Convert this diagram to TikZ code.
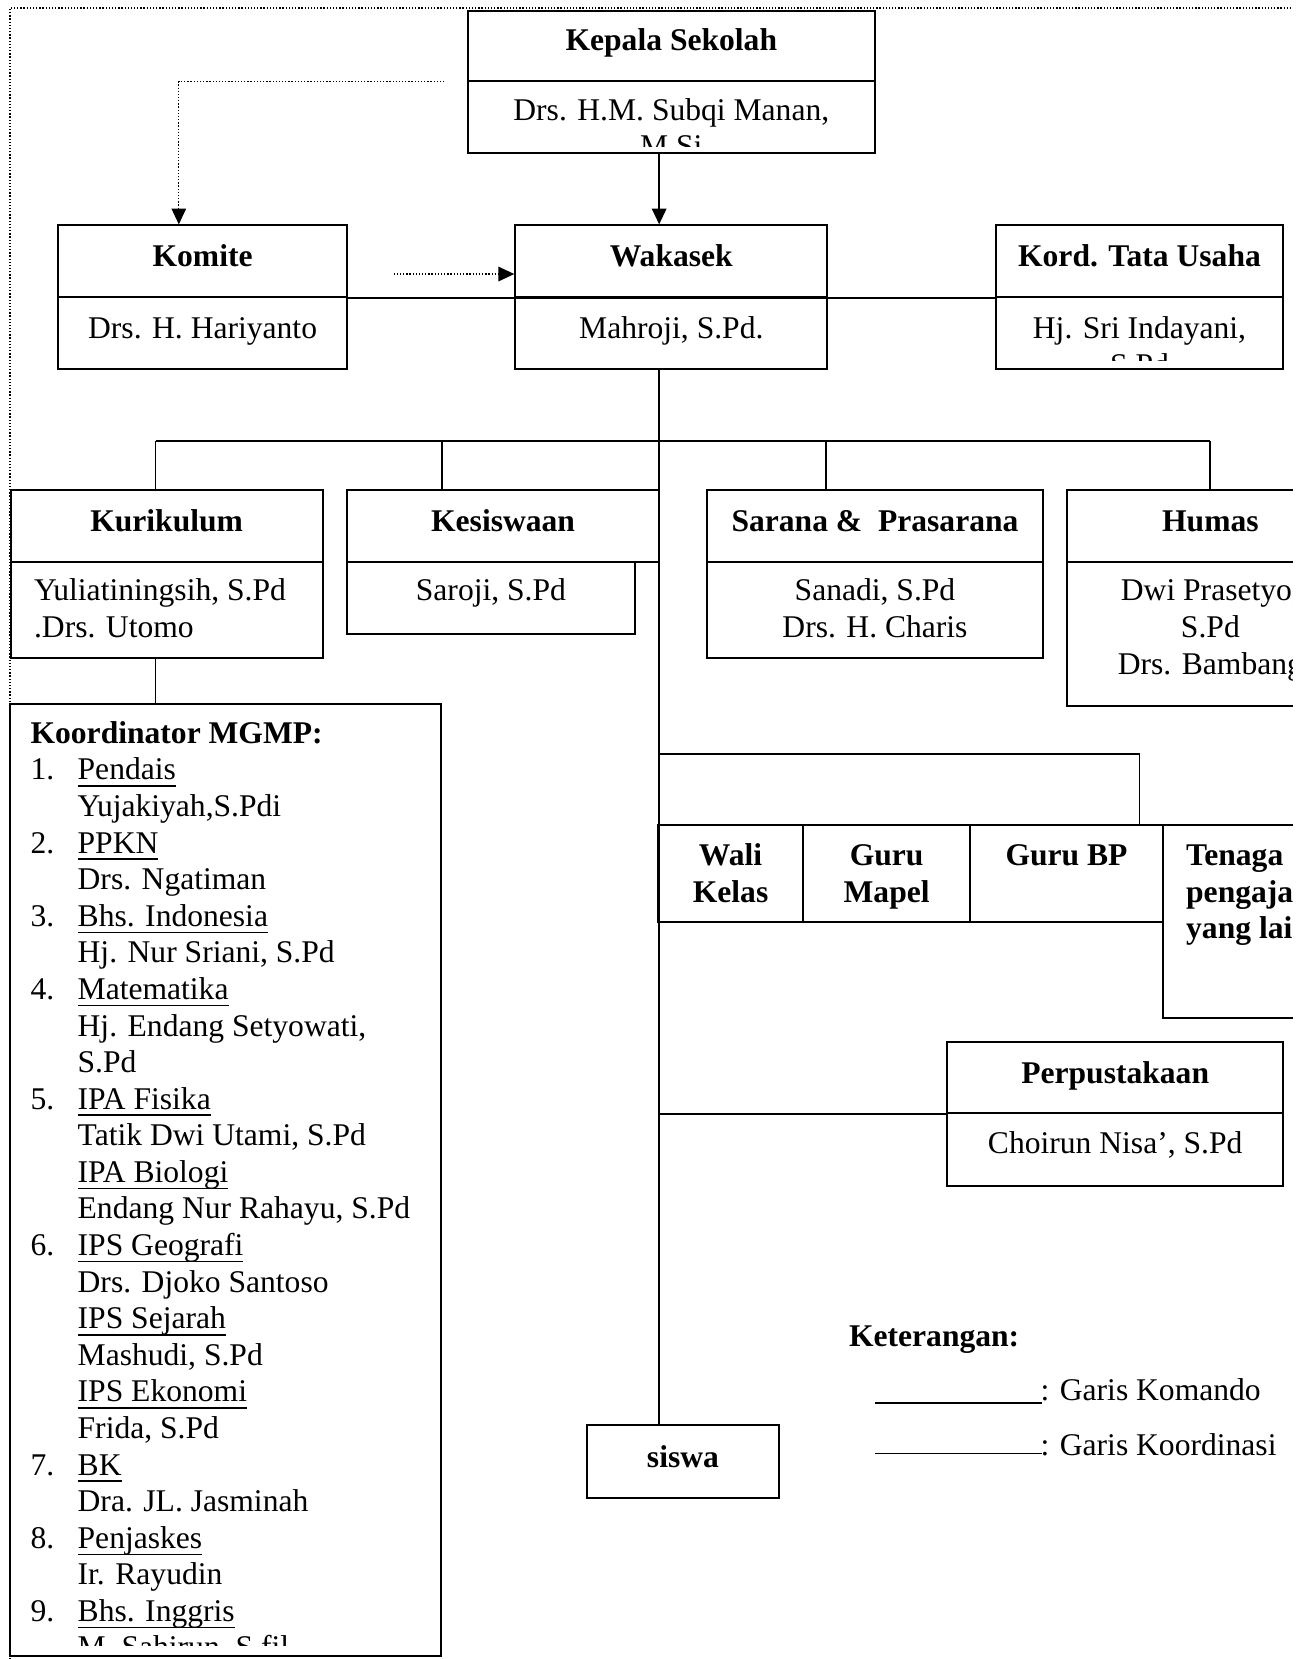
\documentclass[tikz,border=0pt]{standalone}
\usepackage{fontspec}
\setmainfont{Liberation Serif}
\usetikzlibrary{arrows.meta,fit}
\newcommand{\myul}[1]{\setbox0\hbox{#1}\rlap{\rule[-2.6pt]{\wd0}{0.6pt}}\box0}
\newcommand{\mlc}[1]{\begin{tabular}[t]{@{}c@{}}#1\end{tabular}}
\newcommand{\mll}[1]{\begin{tabular}[t]{@{}l@{}}#1\end{tabular}}
\tikzset{
  box/.style={draw, line width=0.75pt, inner sep=0pt},
  conn/.style={line width=0.7pt},
  dotln/.style={line width=0.5pt, dash pattern=on 0.5pt off 0.7pt},
  tip/.style={-{Triangle[length=6pt,width=5.5pt]}},
  txt/.style={anchor=base, inner sep=0pt, font=\fontsize{12}{13.9}\selectfont},
  btxt/.style={anchor=base, inner sep=0pt, font=\fontsize{12}{13.9}\selectfont\bfseries},
}
\begin{document}
\begin{tikzpicture}[x=0.402pt,y=-0.402pt]
\useasboundingbox (0,0) rectangle (1232,1568);
\begin{scope}
\clip (-2,-2) rectangle (1222,1570);

% outer dotted guide
\coordinate (g1) at (9.5,1568);
\coordinate (g2) at (9.5,7.5);
\coordinate (g3) at (1220,7.5);
\draw[dotln] (g1) -- (g2) -- (g3);

% ---------- boxes ----------
\node[box, fit={(442,10) (827,77)}] (kepH) {};
\node[box, fit={(442,77) (827,145)}] (kepB) {};
\node[box, fit={(55,213) (328,281)}] (komH) {};
\node[box, fit={(55,281) (328,349)}] (komB) {};
\node[box, fit={(487,213) (782,281)}] (wakH) {};
\node[box, fit={(487,281) (782,349)}] (wakB) {};
\node[box, fit={(941,213) (1213,281)}] (kordH) {};
\node[box, fit={(941,281) (1213,349)}] (kordB) {};

\node[box, fit={(10,463) (305,531)}] (kurH) {};
\node[box, fit={(10,531) (305,622)}] (kurB) {};
\node[box, fit={(328,463) (623,531)}] (kesH) {};
\node[box, fit={(328,531) (600,599)}] (kesB) {};
\node[box, fit={(668,463) (986,531)}] (sarH) {};
\node[box, fit={(668,531) (986,622)}] (sarB) {};
\node[box, fit={(1008,463) (1280,531)}] (humH) {};
\node[box, fit={(1008,531) (1280,667)}] (humB) {};

\node[box, fit={(9,665) (417,1565)}] (mgmp) {};

\node[box, fit={(622,780) (759,871)}] (wali) {};
\node[box, fit={(759,780) (917,871)}] (mapel) {};
\node[box, fit={(917,780) (1099,871)}] (bp) {};
\node[box, fit={(1099,780) (1280,962)}] (tenaga) {};

\node[box, fit={(895,985) (1213,1052)}] (perH) {};
\node[box, fit={(895,1052) (1213,1121)}] (perB) {};

\node[box, fit={(555,1347) (736,1416)}] (siswa) {};

% ---------- texts ----------
\node[btxt] (kepT) at (634.5,48) {Kepala Sekolah};
\begin{scope}
\clip (442,77) rectangle (827,138);
\node[txt] (kepN) at (634.5,113.5) {\mlc{Drs. H.M. Subqi Manan,\\M.Si}};
\end{scope}
\node[btxt] (komT) at (191.5,252) {Komite};
\node[txt] (komN) at (191.5,320) {Drs. H. Hariyanto};
\node[btxt] (wakT) at (634.5,252) {Wakasek};
\node[txt] (wakN) at (634.5,320) {Mahroji, S.Pd.};
\node[btxt] (kordT) at (1077,252) {Kord. Tata Usaha};
\begin{scope}
\clip (941,281) rectangle (1213,341);
\node[txt] (kordN) at (1077,320) {\mlc{Hj. Sri Indayani,\\S.Pd}};
\end{scope}

\node[btxt] (kurT) at (157.5,502) {Kurikulum};
\node[txt, anchor=base west] (kurN) at (31.7,568) {\mll{Yuliatiningsih, S.Pd\\.Drs. Utomo}};
\node[btxt] (kesT) at (475.5,502) {Kesiswaan};
\node[txt] (kesN) at (464,568) {Saroji, S.Pd};
\node[btxt] (sarT) at (827,502) {Sarana \& \ Prasarana};
\node[txt] (sarN) at (827,568) {\mlc{Sanadi, S.Pd\\Drs. H. Charis}};
\node[btxt] (humT) at (1144,502) {Humas};
\node[txt] (humN) at (1144,568) {\mlc{Dwi Prasetyo,\\S.Pd\\Drs. Bambang}};

\node[btxt] (waliT) at (690.5,818) {\mlc{Wali\\Kelas}};
\node[btxt] (mapelT) at (838,818) {\mlc{Guru\\Mapel}};
\node[btxt] (bpT) at (1008,818) {Guru BP};
\node[btxt, anchor=base west] (tenT) at (1120.6,818) {\mll{Tenaga\\pengajar\\yang lain}};

\node[btxt] (perT) at (1054,1024) {Perpustakaan};
\node[txt] (perN) at (1054,1090) {Choirun Nisa’, S.Pd};

\node[btxt] (siswaT) at (645.5,1387) {siswa};

\begin{scope}
\clip (9,665) rectangle (417,1555);
\node[txt, anchor=base west] (mgmpT) at (28.4,702.6) {\begin{tabular}[t]{@{}p{17.9pt}@{}l@{}}
\multicolumn{2}{@{}l@{}}{\bfseries Koordinator MGMP:}\\
1. & \myul{Pendais}\\
 & Yujakiyah,S.Pdi\\
2. & \myul{PPKN}\\
 & Drs. Ngatiman\\
3. & \myul{Bhs. Indonesia}\\
 & Hj. Nur Sriani, S.Pd\\
4. & \myul{Matematika}\\
 & Hj. Endang Setyowati,\\
 & S.Pd\\
5. & \myul{IPA Fisika}\\
 & Tatik Dwi Utami, S.Pd\\
 & \myul{IPA Biologi}\\
 & Endang Nur Rahayu, S.Pd\\
6. & \myul{IPS Geografi}\\
 & Drs. Djoko Santoso\\
 & \myul{IPS Sejarah}\\
 & Mashudi, S.Pd\\
 & \myul{IPS Ekonomi}\\
 & Frida, S.Pd\\
7. & \myul{BK}\\
 & Dra. JL. Jasminah\\
8. & \myul{Penjaskes}\\
 & Ir. Rayudin\\
9. & \myul{Bhs. Inggris}\\
 & M. Sahirun, S.fil
\end{tabular}};
\end{scope}

% ---------- connectors ----------
\coordinate (spine) at (623,0);
\draw[conn,tip] (kepB.south -| spine) -- (wakH.north -| spine);
\draw[conn] (wakB.south -| spine) -- (siswa.north -| spine);
\draw[conn] (komH.south east) -- (kordH.south west);

\coordinate (kd) at (420,77);
\coordinate (kx) at (169,0);
\draw[dotln,tip] (kd) -| (kx |- komH.north);
\coordinate (da) at (372,259);
\draw[dotln,tip] (da) -- (da -| wakH.west);

\coordinate (b1) at (147,417);
\coordinate (b2) at (418,417);
\coordinate (b3) at (781,417);
\coordinate (b4) at (1144,417);
\draw[conn] (b1) -- (b4);
\draw[conn] (b1) -- (b1 |- kurH.north);
\draw[conn] (b2) -- (b2 |- kesH.north);
\draw[conn] (b3) -- (b3 |- sarH.north);
\draw[conn] (b4) -- (b4 |- humH.north);
\draw[conn] (kurB.south -| b1) -- (mgmp.north -| b1);

\coordinate (t1) at (623,713);
\coordinate (t2) at (1077,713);
\draw[conn] (t1) -- (t2) -- (t2 |- bp.north);
\draw[conn] (perH.south west -| spine) -- (perH.south west);

% ---------- legend ----------
\node[btxt, anchor=base west] (ket) at (802,1273) {Keterangan:};
\coordinate (la1) at (827,1326);
\coordinate (lb1) at (985,1326);
\draw[line width=0.8pt] (la1) -- (lb1);
\coordinate (la2) at (827,1373.5);
\coordinate (lb2) at (985,1373.5);
\draw[line width=0.5pt] (la2) -- (lb2);
\node[txt, anchor=base west] (leg1) at (983,1324) {: Garis Komando};
\node[txt, anchor=base west] (leg2) at (983,1376) {: Garis Koordinasi};
\end{scope}
\end{tikzpicture}
\end{document}
